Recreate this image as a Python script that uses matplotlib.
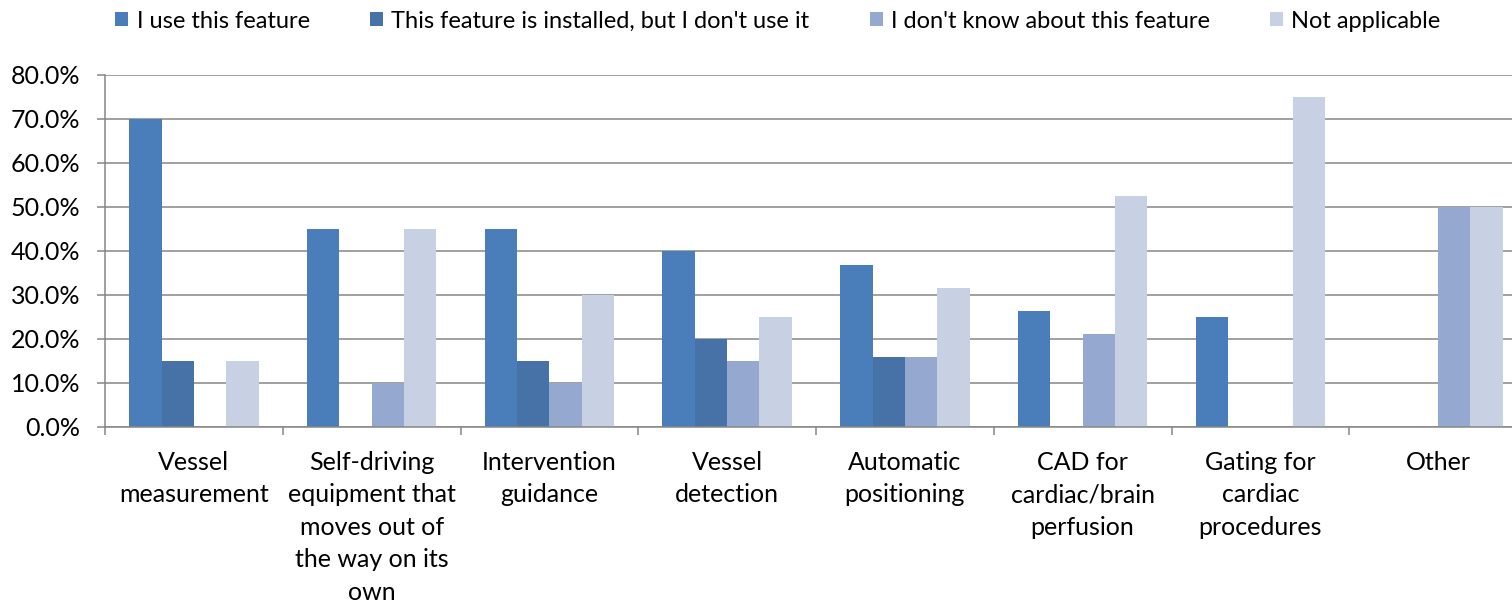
import numpy as np
import matplotlib.pyplot as plt
from matplotlib.ticker import FuncFormatter

plt.rcParams['font.family'] = ['Lato', 'DejaVu Sans']

# data (percent)
categories = ["Vessel\nmeasurement",
              "Self-driving\nequipment that\nmoves out of\nthe way on its\nown",
              "Intervention\nguidance",
              "Vessel\ndetection",
              "Automatic\npositioning",
              "CAD for\ncardiac/brain\nperfusion",
              "Gating for\ncardiac\nprocedures",
              "Other"]
series_names = ["I use this feature",
                "This feature is installed, but I don't use it",
                "I don't know about this feature",
                "Not applicable"]
use_it = [70.0, 45.0, 45.0, 40.0, 36.8, 26.3, 25.0, 0.0]
installed_unused = [15.0, 0.0, 15.0, 20.0, 15.8, 0.0, 0.0, 0.0]
dont_know = [0.0, 10.0, 10.0, 15.0, 15.8, 21.1, 0.0, 50.0]
not_applicable = [15.0, 45.0, 30.0, 25.0, 31.6, 52.6, 75.0, 50.0]
colors = ['#4A7EBB', '#4672A8', '#95A9D0', '#C8D0E4']

W, H = 1512, 601
fig = plt.figure(figsize=(W / 100, H / 100), dpi=100)
# axes runs slightly past the right edge, as in the original
ax = fig.add_axes([105 / W, (H - 427) / H, 1422 / W, 352 / H])

x = np.arange(len(categories))
bw = 0.182
data = [use_it, installed_unused, dont_know, not_applicable]
for i, (vals, name, c) in enumerate(zip(data, series_names, colors)):
    ax.bar(x + (i - 1.5) * bw, vals, bw, color=c, label=name, linewidth=0, zorder=2)

ax.set_xlim(-0.5, len(categories) - 0.5)
ax.set_ylim(0, 80)
ax.set_yticks(np.arange(0, 81, 10))
ax.yaxis.set_major_formatter(FuncFormatter(lambda v, p: f"{v:.1f}%"))
ax.grid(axis='y', color='#868686', linewidth=1.1, zorder=0)
ax.set_axisbelow(True)

# tick marks at category borders, labels at category centres
ax.set_xticks(np.arange(-0.5, len(categories), 1.0))
ax.set_xticklabels([])
ax.set_xticks(x, minor=True)
ax.set_xticklabels(categories, minor=True, fontsize=18, linespacing=1.5, va='top')
ax.tick_params(axis='x', which='minor', length=0, pad=17)
ax.tick_params(axis='x', which='major', length=6, width=1.1, color='#868686', direction='out')
ax.tick_params(axis='y', length=6, width=1.1, color='#868686', labelsize=18, pad=12)

for s in ['top', 'right']:
    ax.spines[s].set_visible(False)
for s in ['left', 'bottom']:
    ax.spines[s].set_color('#868686')
    ax.spines[s].set_linewidth(1.1)

fig.legend(loc='center', bbox_to_anchor=(0.5145, 1 - 21 / H), ncol=4, frameon=False,
           fontsize=17, handlelength=0.55, handleheight=0.55, handletextpad=0.35,
           columnspacing=2.55, borderaxespad=0)

fig.savefig('out.png', dpi=100)
